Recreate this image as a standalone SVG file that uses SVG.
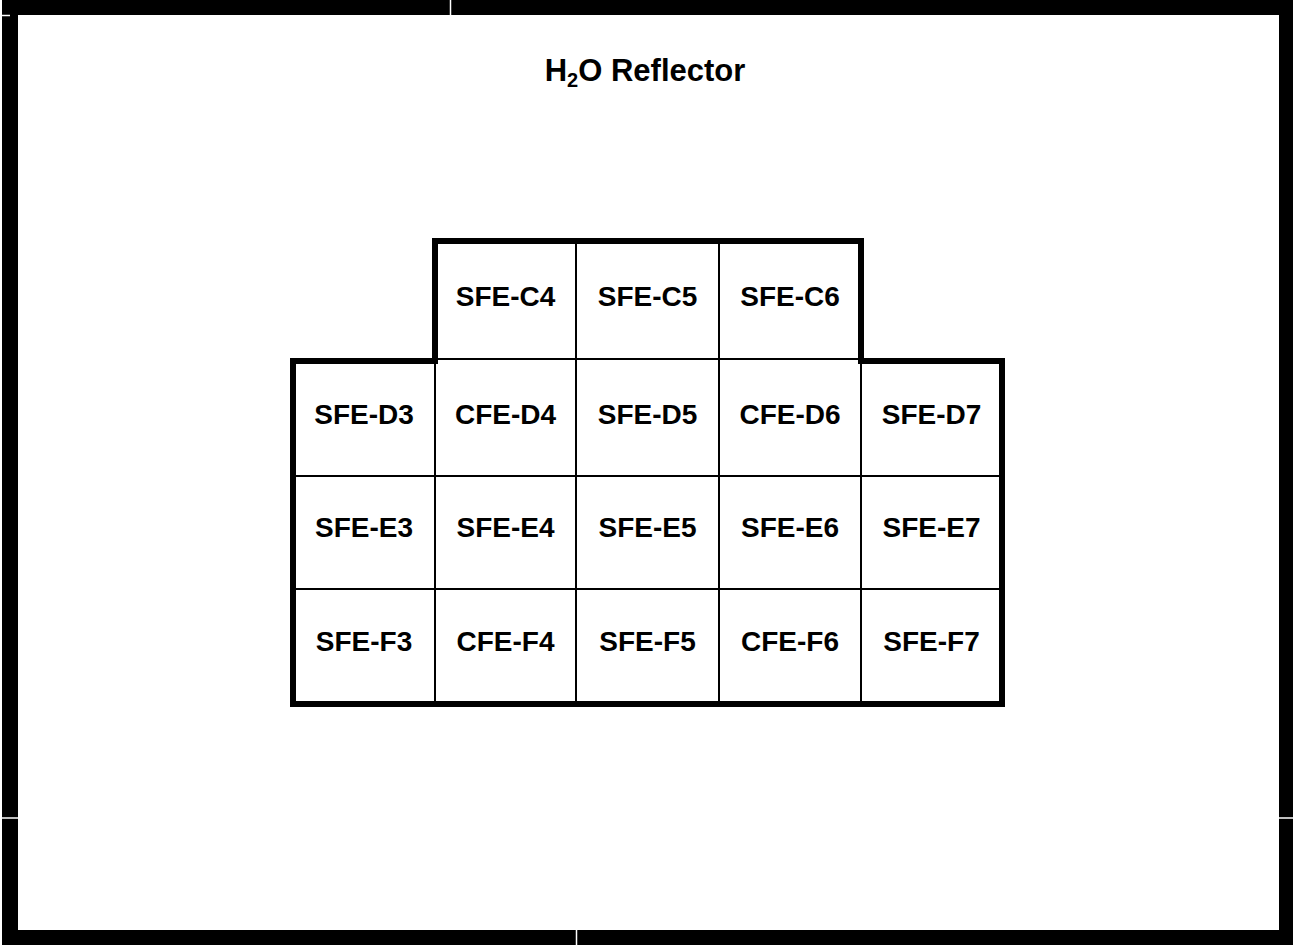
<svg xmlns="http://www.w3.org/2000/svg" width="1293" height="945" viewBox="0 0 1293 945">
<style>
.cell{fill:#fff;stroke:#000;stroke-width:2}
.lbl{font-family:"Liberation Sans",Arial,sans-serif;font-weight:bold;font-size:28px;fill:#000;text-anchor:middle}
.frame{fill:#000}
.seam{stroke:#fff;stroke-width:1.5}
</style>
<rect width="1293" height="945" fill="#fff"/>
<g id="frame">
<rect class="frame" x="2" y="0" width="1291" height="15"/>
<rect class="frame" x="2" y="0" width="16" height="945"/>
<rect class="frame" x="1279" y="0" width="14" height="945"/>
<rect class="frame" x="2" y="930" width="1291" height="15"/>
<line class="seam" x1="450.5" y1="0" x2="450.5" y2="15"/>
<line class="seam" x1="2" y1="818" x2="18" y2="818"/>
<line class="seam" x1="1279" y1="818" x2="1293" y2="818"/>
<line class="seam" x1="576.5" y1="930" x2="576.5" y2="945"/>
<line class="seam" x1="2" y1="15.5" x2="10" y2="15.5"/>
</g>
<g id="title">
<text class="lbl" x="645" y="81" style="font-size:31px">H<tspan style="font-size:20px" dy="6">2</tspan><tspan dy="-6">O Reflector</tspan></text>
</g>
<g id="cells">
<g id="C4"><rect class="cell" x="435" y="241" width="141" height="118"/><text class="lbl" x="505.5" y="306">SFE-C4</text></g>
<g id="C5"><rect class="cell" x="576" y="241" width="143" height="118"/><text class="lbl" x="647.5" y="306">SFE-C5</text></g>
<g id="C6"><rect class="cell" x="719" y="241" width="142" height="118"/><text class="lbl" x="790" y="306">SFE-C6</text></g>
<g id="D3"><rect class="cell" x="293" y="359" width="142" height="117"/><text class="lbl" x="364" y="424">SFE-D3</text></g>
<g id="D4"><rect class="cell" x="435" y="359" width="141" height="117"/><text class="lbl" x="505.5" y="424">CFE-D4</text></g>
<g id="D5"><rect class="cell" x="576" y="359" width="143" height="117"/><text class="lbl" x="647.5" y="424">SFE-D5</text></g>
<g id="D6"><rect class="cell" x="719" y="359" width="142" height="117"/><text class="lbl" x="790" y="424">CFE-D6</text></g>
<g id="D7"><rect class="cell" x="861" y="359" width="141" height="117"/><text class="lbl" x="931.5" y="424">SFE-D7</text></g>
<g id="E3"><rect class="cell" x="293" y="476" width="142" height="113"/><text class="lbl" x="364" y="537">SFE-E3</text></g>
<g id="E4"><rect class="cell" x="435" y="476" width="141" height="113"/><text class="lbl" x="505.5" y="537">SFE-E4</text></g>
<g id="E5"><rect class="cell" x="576" y="476" width="143" height="113"/><text class="lbl" x="647.5" y="537">SFE-E5</text></g>
<g id="E6"><rect class="cell" x="719" y="476" width="142" height="113"/><text class="lbl" x="790" y="537">SFE-E6</text></g>
<g id="E7"><rect class="cell" x="861" y="476" width="141" height="113"/><text class="lbl" x="931.5" y="537">SFE-E7</text></g>
<g id="F3"><rect class="cell" x="293" y="589" width="142" height="115"/><text class="lbl" x="364" y="651">SFE-F3</text></g>
<g id="F4"><rect class="cell" x="435" y="589" width="141" height="115"/><text class="lbl" x="505.5" y="651">CFE-F4</text></g>
<g id="F5"><rect class="cell" x="576" y="589" width="143" height="115"/><text class="lbl" x="647.5" y="651">SFE-F5</text></g>
<g id="F6"><rect class="cell" x="719" y="589" width="142" height="115"/><text class="lbl" x="790" y="651">CFE-F6</text></g>
<g id="F7"><rect class="cell" x="861" y="589" width="141" height="115"/><text class="lbl" x="931.5" y="651">SFE-F7</text></g>
</g>
<g id="outline">
<path d="M293,361 H435 V241 H861 V361 H1002 V704 H293 Z" fill="none" stroke="#000" stroke-width="6" stroke-linejoin="miter"/>
</g>
</svg>
